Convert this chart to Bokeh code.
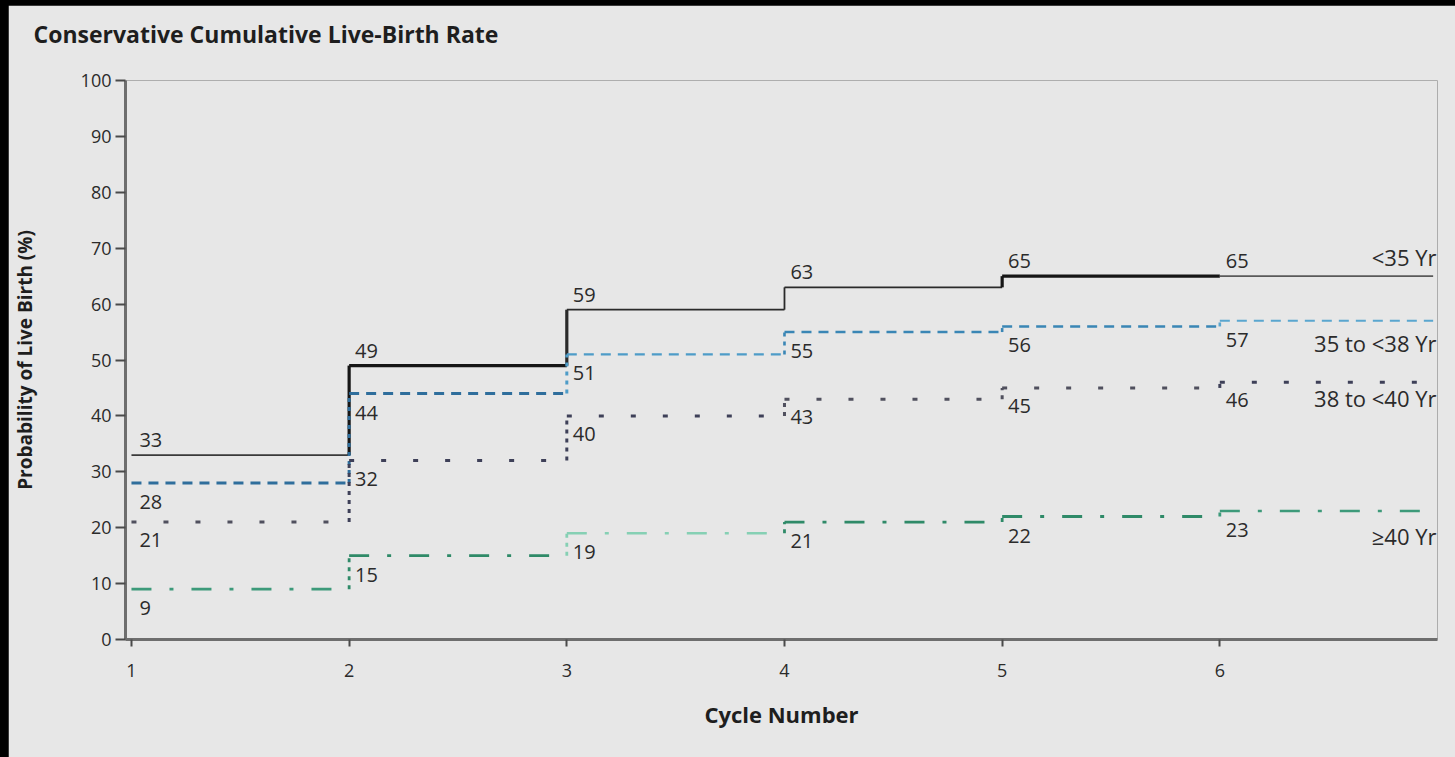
from bokeh.plotting import figure
from bokeh.models import ColumnDataSource, LabelSet, Label, FixedTicker, Title
from bokeh.core.properties import value
from bokeh.embed import file_html
from bokeh.resources import INLINE

# ---------------- data ----------------
cycles = [1, 2, 3, 4, 5, 6]
line_end = 6.98
series_names = ["<35 Yr", "35 to <38 Yr", "38 to <40 Yr", "\u226540 Yr"]
rate_lt35 = [33, 49, 59, 63, 65, 65]
rate_35_38 = [28, 44, 51, 55, 56, 57]
rate_38_40 = [21, 32, 40, 43, 45, 46]
rate_ge40 = [9, 15, 19, 21, 22, 23]
x_ticks = [1, 2, 3, 4, 5, 6]
y_ticks = [0, 10, 20, 30, 40, 50, 60, 70, 80, 90, 100]
title_text = "Conservative Cumulative Live-Birth Rate"
x_label = "Cycle Number"
y_label = "Probability of Live Birth (%)"

# ---------------- styles ----------------
BG = "#e7e7e7"
FONT = "Open Sans"
TXT = "#2b2b2b"
dashes = ["solid", "10 7", "5 27", "20 18 4 18"]
# per-step colours / widths (horizontal run starting at each cycle)
seg_colors = [
    ["#3a3a3a", "#161616", "#2a2a2a", "#2a2a2a", "#161616", "#5a5a5a"],
    ["#2f6e9c", "#2f6e9c", "#4e9cc8", "#3a86b5", "#3a86b5", "#5aa6cf"],
    ["#50505e", "#3e4058", "#3e4058", "#50505e", "#50505e", "#3e4058"],
    ["#3d9a7a", "#2f8a68", "#86d0b4", "#2f8a68", "#2f8a68", "#3d9a7a"],
]
seg_widths = [
    [1.8, 3.2, 1.8, 1.8, 3.2, 1.6],
    [3.0, 3.0, 2.2, 2.6, 2.6, 2.0],
    [3.0, 3.0, 3.0, 3.0, 3.0, 3.0],
    [2.8, 2.8, 2.4, 2.8, 2.8, 2.6],
]
label_dy_px = [15, -19, -18, -19]      # value label offsets (px), + above
name_dy_px = [19, -22, -16, -25]       # series name offsets (px)

X0 = 1 - 6 / 219.0
X1 = 7.0
p = figure(width=1447, height=752, x_range=(X0, X1), y_range=(0, 100),
           output_backend="svg", toolbar_location=None,
           min_border_left=109, min_border_right=18,
           min_border_top=75, min_border_bottom=118)
p.background_fill_color = BG
p.border_fill_color = BG
p.outline_line_color = None
p.grid.visible = False

p.title.text = title_text
p.title.align = "left"
p.title.offset = -92
p.title.text_font = FONT
p.title.text_font_style = "bold"
p.title.text_font_size = "23px"
p.title.text_color = "#1e1e1e"
p.add_layout(Title(text=" ", text_font_size="12px"), "above")

px_per_unit_y = 559 / 100.0
px_per_unit_x = 1320 / (X1 - X0)

all_series = [rate_lt35, rate_35_38, rate_38_40, rate_ge40]
for i, vals in enumerate(all_series):
    xs = cycles + [line_end]
    cw = seg_widths[i]
    # horizontal runs
    h = ColumnDataSource(dict(x0=xs[:-1], x1=xs[1:], y=vals,
                              c=seg_colors[i], w=cw))
    p.segment(x0="x0", y0="y", x1="x1", y1="y", source=h,
              line_color="c", line_width="w", line_dash=dashes[i])
    # vertical risers at each following cycle
    vw = [max(cw[k], cw[k + 1]) for k in range(len(cycles) - 1)]
    v = ColumnDataSource(dict(x=cycles[1:], y0=vals[:-1], y1=vals[1:],
                              c=seg_colors[i][1:], w=vw))
    p.segment(x0="x", y0="y0", x1="x", y1="y1", source=v,
              line_color="c", line_width="w",
              line_dash=("solid" if i == 0 else "4 5"))
    lx = [c + (8 if c == 1 else 6) / px_per_unit_x for c in cycles]
    ly = [val + label_dy_px[i] / px_per_unit_y for val in vals]
    src = ColumnDataSource(dict(x=lx, y=ly, t=[str(val) for val in vals]))
    p.add_layout(LabelSet(x="x", y="y", text="t", source=src,
                          text_font=value(FONT), text_font_size="20px",
                          text_color=TXT, text_align="left",
                          text_baseline="middle"))
    p.add_layout(Label(x=X1 - 1 / px_per_unit_x,
                       y=vals[-1] + name_dy_px[i] / px_per_unit_y,
                       text=series_names[i], text_font=FONT,
                       text_font_size="22px", text_color=TXT,
                       text_align="right", text_baseline="middle"))

# axes
for ax in (p.xaxis[0], p.yaxis[0]):
    ax.axis_line_color = "#6e6e6e"
    ax.axis_line_width = 3
    ax.major_tick_line_color = "#4a4a4a"
    ax.major_tick_line_width = 2
    ax.major_tick_in = 0
    ax.minor_tick_line_color = None
    ax.major_label_text_font = FONT
    ax.major_label_text_font_size = "18px"
    ax.major_label_text_color = TXT
    ax.axis_label_text_font = FONT
    ax.axis_label_text_font_style = "bold"
    ax.axis_label_text_color = "#1e1e1e"

p.xaxis.ticker = FixedTicker(ticks=x_ticks)
p.yaxis.ticker = FixedTicker(ticks=y_ticks)
p.xaxis.major_tick_out = 7
p.xaxis.major_label_standoff = 17
p.yaxis.major_tick_out = 10
p.yaxis.major_label_standoff = 4
p.xaxis.axis_label = x_label
p.xaxis.axis_label_text_font_size = "22px"
p.xaxis.axis_label_standoff = 19
p.yaxis.axis_label = y_label
p.yaxis.axis_label_text_font_size = "19px"
p.yaxis.axis_label_standoff = 40

html = file_html(p, INLINE)
style = ("<style>html, body { background: #000 !important; } "
         "body { padding: 5px 0 0 8px !important; }</style></head>")
html = html.replace("</head>", style, 1)
open("out.html", "w").write(html)
